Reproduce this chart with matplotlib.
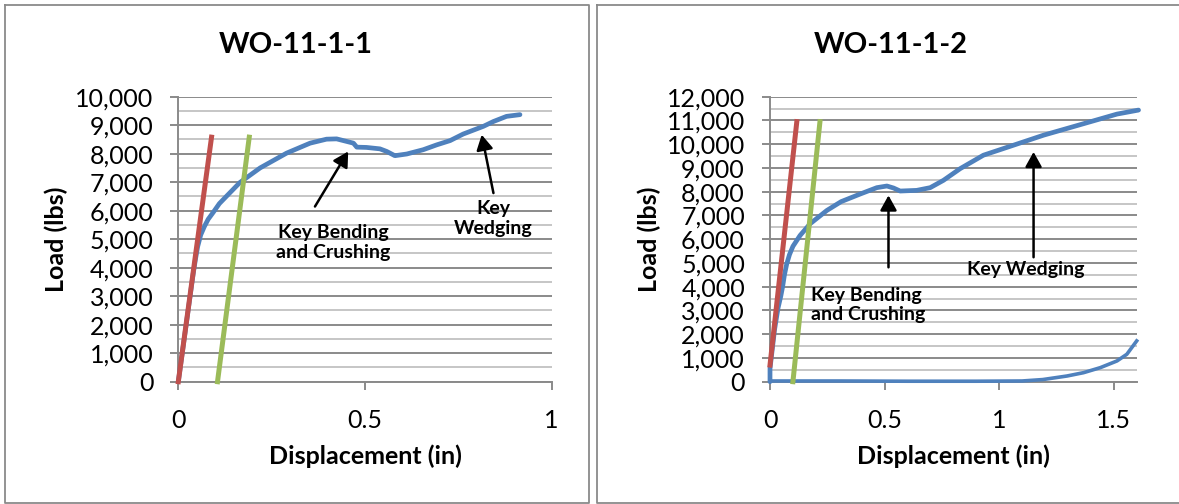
import matplotlib
matplotlib.use("Agg")
import matplotlib.pyplot as plt
from matplotlib.ticker import FuncFormatter, MultipleLocator, FixedLocator
from matplotlib.lines import Line2D

plt.rcParams["font.family"] = ["Lato", "DejaVu Sans"]

# ---- WO-11-1-1 ----
title1 = "WO-11-1-1"
disp1 = [0, 0.02, 0.04, 0.046, 0.052, 0.06, 0.07, 0.08, 0.094, 0.11, 0.13,
         0.165, 0.219, 0.29, 0.353, 0.397, 0.424, 0.451, 0.469, 0.478, 0.504,
         0.54, 0.558, 0.58, 0.612, 0.656, 0.692, 0.728, 0.763, 0.817, 0.844,
         0.879, 0.915]
load1 = [0, 1900, 3800, 4300, 4750, 5150, 5450, 5700, 5950, 6250, 6520,
         6990, 7500, 8020, 8370, 8510, 8520, 8430, 8370, 8230, 8220,
         8170, 8080, 7930, 7990, 8140, 8310, 8460, 8690, 8960, 9130,
         9310, 9370]
red1_x, red1_y = [0, 0.089], [0, 8580]
green1_x, green1_y = [0.105, 0.19], [0, 8580]
xticks1 = [0, 0.5, 1]
xticklabels1 = ["0", "0.5", "1"]

# ---- WO-11-1-2 ----
title2 = "WO-11-1-2"
disp2 = [0, 0, 0.02, 0.035, 0.047, 0.055, 0.063, 0.073, 0.085, 0.1, 0.131,
         0.175, 0.248, 0.31, 0.393, 0.466, 0.51, 0.539, 0.568, 0.64, 0.699,
         0.757, 0.83, 0.931, 1.019, 1.106, 1.194, 1.296, 1.397, 1.514, 1.608]
load2 = [0, 550, 2200, 3100, 3600, 4000, 4500, 4960, 5350, 5700, 6155,
         6650, 7210, 7580, 7900, 8170, 8240, 8155, 8028, 8056, 8170,
         8480, 8972, 9536, 9818, 10098, 10381, 10663, 10943, 11268, 11437]
disp2_tail = [0, 0.3, 0.6, 0.9, 1.1, 1.19, 1.296, 1.368, 1.441, 1.514, 1.557, 1.6]
load2_tail = [30, 30, 20, 20, 30, 90, 240, 380, 591, 874, 1155, 1718]
red2_x, red2_y = [0, 0.117], [700, 10950]
green2_x, green2_y = [0.1, 0.218], [0, 10950]
xticks2 = [0, 0.5, 1, 1.5]
xticklabels2 = ["0", "0.5", "1", "1.5"]

BLUE = "#4F81BD"
RED = "#C0504D"
GREEN = "#9BBB59"
GRID_MAJOR = "#8a8a8a"
GRID_MINOR = "#c6c6c6"

W, H = 1179, 504
fig = plt.figure(figsize=(W / 100, H / 100), dpi=100)


def px_rect(x0, y_top, x1, y_bot):
    return [x0 / W, 1 - y_bot / H, (x1 - x0) / W, (y_bot - y_top) / H]


def style_axes(ax, xmax, ymax, xticks, xticklabels):
    ax.set_xlim(0, xmax)
    ax.set_ylim(0, ymax)
    for s in ["top", "right"]:
        ax.spines[s].set_visible(False)
    for s in ["left", "bottom"]:
        ax.spines[s].set_color(GRID_MAJOR)
        ax.spines[s].set_linewidth(1.4)
    ax.yaxis.set_major_locator(MultipleLocator(1000))
    ax.yaxis.set_minor_locator(MultipleLocator(500))
    ax.yaxis.set_major_formatter(FuncFormatter(lambda v, p: f"{int(round(v)):,}"))
    ax.xaxis.set_major_locator(FixedLocator(xticks))
    ax.set_xticklabels(xticklabels)
    ax.grid(axis="y", which="major", color=GRID_MAJOR, lw=1.4, zorder=0)
    ax.grid(axis="y", which="minor", color=GRID_MINOR, lw=1.4, zorder=0)
    ax.set_axisbelow(True)
    ax.tick_params(axis="y", which="major", direction="out", length=6,
                   width=1.4, color=GRID_MAJOR, pad=12, labelsize=18)
    ax.tick_params(axis="y", which="minor", length=0)
    ax.tick_params(axis="x", which="major", direction="out", length=6,
                   width=1.4, color=GRID_MAJOR, pad=14, labelsize=18)


def arrow(ax, tail, head):
    ax.annotate("", xy=head, xytext=tail,
                arrowprops=dict(arrowstyle="-|>,head_length=0.45,head_width=0.25",
                                color="black", lw=1.8, mutation_scale=20,
                                shrinkA=0, shrinkB=0))


ann_kw = dict(fontsize=14, fontweight="bold", color="black", linespacing=1.2)

# Left chart
ax1 = fig.add_axes(px_rect(178.3, 96.7, 551.7, 381.7))
style_axes(ax1, 1, 10000, xticks1, xticklabels1)
ax1.plot(disp1, load1, color=BLUE, lw=3.4, solid_capstyle="round",
         solid_joinstyle="round", zorder=3, clip_on=False)
ax1.plot(red1_x, red1_y, color=RED, lw=3.6, zorder=4, clip_on=False)
ax1.plot(green1_x, green1_y, color=GREEN, lw=3.6, zorder=4, clip_on=False)
arrow(ax1, (0.366, 6147), (0.455, 8079))
arrow(ax1, (0.844, 6618), (0.8125, 8665))
ax1.text(0.415, 4880, "Key Bending\nand Crushing", ha="center", va="center", **ann_kw)
ax1.text(0.843, 5725, "Key\nWedging", ha="center", va="center", **ann_kw)

# Right chart
ax2 = fig.add_axes(px_rect(770, 96.7, 1136.7, 381.7))
style_axes(ax2, 1.6, 12000, xticks2, xticklabels2)
ax2.plot(disp2, load2, color=BLUE, lw=3.4, solid_capstyle="round",
         solid_joinstyle="round", zorder=3, clip_on=False)
ax2.plot(disp2_tail, load2_tail, color=BLUE, lw=2.6, zorder=3, clip_on=False)
ax2.plot(red2_x, red2_y, color=RED, lw=3.6, zorder=4, clip_on=False)
ax2.plot(green2_x, green2_y, color=GREEN, lw=3.6, zorder=4, clip_on=False)
arrow(ax2, (0.517, 4816), (0.517, 7845))
arrow(ax2, (1.15, 5240), (1.15, 9675))
ax2.text(0.179, 3232, "Key Bending\nand Crushing", ha="left", va="center", **ann_kw)
ax2.text(1.118, 4719, "Key Wedging", ha="center", va="center", **ann_kw)

# Titles and axis labels
for xc, t in [(296, title1), (890.5, title2)]:
    fig.text(xc / W, 1 - 45 / H, t, ha="center", va="center",
             fontsize=21, fontweight="bold")
for xc in [(178.3 + 551.7) / 2, (770 + 1136.7) / 2]:
    fig.text(xc / W, 1 - 456 / H, "Displacement (in)", ha="center", va="center",
             fontsize=18, fontweight="bold")
for xc in [56.5, 649]:
    fig.text(xc / W, 1 - 239 / H, "Load (lbs)", ha="center", va="center",
             rotation=90, fontsize=18, fontweight="bold")

# Chart-area borders
border_kw = dict(color="#8a8a8a", lw=1.3, transform=fig.transFigure)
for (x0, x1) in [(4.5, 589), (597, 1185)]:
    xs = [x0 / W, x1 / W, x1 / W, x0 / W, x0 / W]
    ys = [1 - 4.5 / H, 1 - 4.5 / H, 1 - 503 / H, 1 - 503 / H, 1 - 4.5 / H]
    fig.add_artist(Line2D(xs, ys, **border_kw))

fig.savefig("out.png", dpi=100, facecolor="white")
